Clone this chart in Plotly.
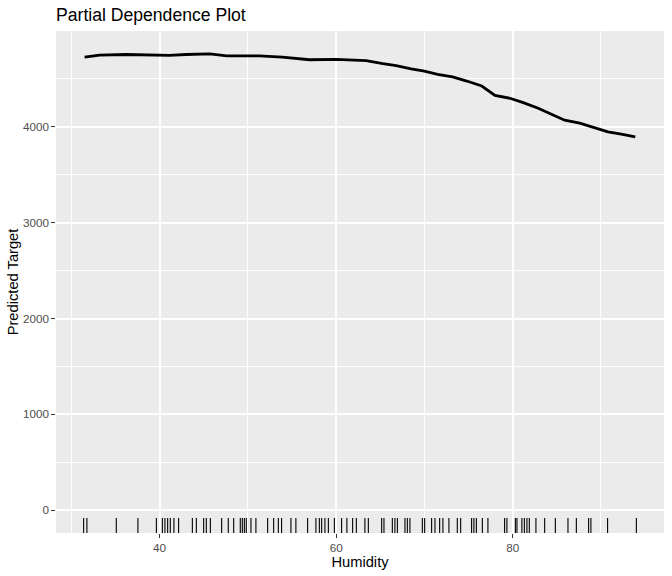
import plotly.graph_objects as go

# Partial dependence curve (Humidity -> predicted target)
humidity_grid = [31.5, 33.2, 36.2, 40.0, 41.1, 43.0, 45.7, 47.6, 51.3, 53.9, 57.0, 60.0,
                 62.5, 63.4, 65.3, 66.8, 68.5, 70.0, 71.5, 73.2, 74.8, 76.5, 78.0, 79.7,
                 81.2, 82.9, 84.4, 85.9, 87.6, 89.3, 90.8, 92.3, 93.9]
predicted = [4727, 4748, 4755, 4748, 4745, 4755, 4762, 4741, 4741, 4727, 4700, 4703,
             4693, 4690, 4660, 4640, 4606, 4582, 4547, 4522, 4478, 4426, 4329, 4298,
             4253, 4194, 4132, 4069, 4038, 3986, 3948, 3924, 3896]

# Observed humidity values (rug)
rug_values = [31.39, 31.76, 35.09, 37.54, 39.63, 40.31, 40.60, 40.91, 41.21, 41.62, 42.15,
              43.71, 44.16, 44.99, 45.29, 45.75, 47.03, 47.78, 48.39, 49.14, 49.37, 49.60,
              49.82, 50.35, 50.91, 52.24, 52.92, 53.45, 53.82, 54.88, 55.44, 56.77, 57.71,
              58.10, 58.36, 58.73, 59.12, 59.80, 60.62, 61.22, 61.87, 62.29, 63.26, 63.65,
              65.16, 65.42, 66.37, 66.66, 66.94, 67.80, 68.07, 68.36, 69.77, 70.03, 70.82,
              71.20, 71.73, 72.10, 72.78, 73.73, 74.11, 75.35, 75.61, 75.89, 76.57, 77.20,
              79.09, 79.35, 80.31, 80.49, 81.05, 81.33, 81.62, 81.89, 82.64, 83.63, 84.84,
              86.27, 87.22, 88.61, 88.87, 90.76, 94.02]

x_ticks = [40, 60, 80]
x_minor = [30, 50, 70, 90]
y_ticks = [0, 1000, 2000, 3000, 4000]
y_minor = [500, 1500, 2500, 3500, 4500]

title_text = "Partial Dependence Plot"
x_title = "Humidity"
y_title = "Predicted Target"

# ggplot-like expanded ranges
xmin, xmax = min(rug_values), max(rug_values)
xpad = 0.05 * (xmax - xmin)
ymin, ymax = 0, max(predicted)
ypad = 0.05 * (ymax - ymin)
rug_len = 0.03

rx, ry = [], []
for v in rug_values:
    rx += [v, v, None]
    ry += [0, rug_len, None]

fig = go.Figure()
fig.add_trace(go.Scatter(x=rx, y=ry, mode="lines", yaxis="y2",
                         line=dict(color="black", width=1.1), hoverinfo="skip",
                         showlegend=False))
fig.add_trace(go.Scatter(x=humidity_grid, y=predicted, mode="lines",
                         line=dict(color="black", width=2.8), showlegend=False))

font_family = "Liberation Sans, Arial, Helvetica, sans-serif"
axis_common = dict(showline=False, zeroline=False, ticks="outside", ticklen=3.7,
                   tickwidth=1.1, tickcolor="#333333", gridcolor="white", gridwidth=2,
                   automargin=False,
                   tickfont=dict(family=font_family, size=11.7, color="#4D4D4D"))

fig.update_layout(
    template="none",
    width=672, height=576,
    margin=dict(l=56, r=8, t=31, b=43, pad=0),
    paper_bgcolor="white", plot_bgcolor="#EBEBEB",
    font=dict(family=font_family, color="black"),
    title=dict(text=title_text, x=56 / 672, xref="container", xanchor="left",
               y=1 - 15 / 576, yref="container", yanchor="middle", automargin=False,
               font=dict(size=17.6, family=font_family, color="black")),
    xaxis=dict(range=[xmin - xpad, xmax + xpad], tickvals=x_ticks,
               ticktext=[str(t) for t in x_ticks],
               minor=dict(tickvals=x_minor, showgrid=True, gridcolor="white",
                          gridwidth=1, ticks=""),
               title=dict(text=x_title, standoff=2,
                          font=dict(size=14.7, family=font_family, color="black")),
               **axis_common),
    yaxis=dict(range=[ymin - ypad, ymax + ypad], tickvals=y_ticks,
               ticktext=[str(t) for t in y_ticks],
               minor=dict(tickvals=y_minor, showgrid=True, gridcolor="white",
                          gridwidth=1, ticks=""),
               title=dict(text=y_title, standoff=0,
                          font=dict(size=14.7, family=font_family, color="black")),
               **axis_common),
    yaxis2=dict(overlaying="y", range=[0, 1], visible=False, fixedrange=True),
)

fig.write_html("out.html",
               config={"displayModeBar": False},
               post_script="document.body.style.margin='0';"
                           "document.body.style.overflow='hidden';")
